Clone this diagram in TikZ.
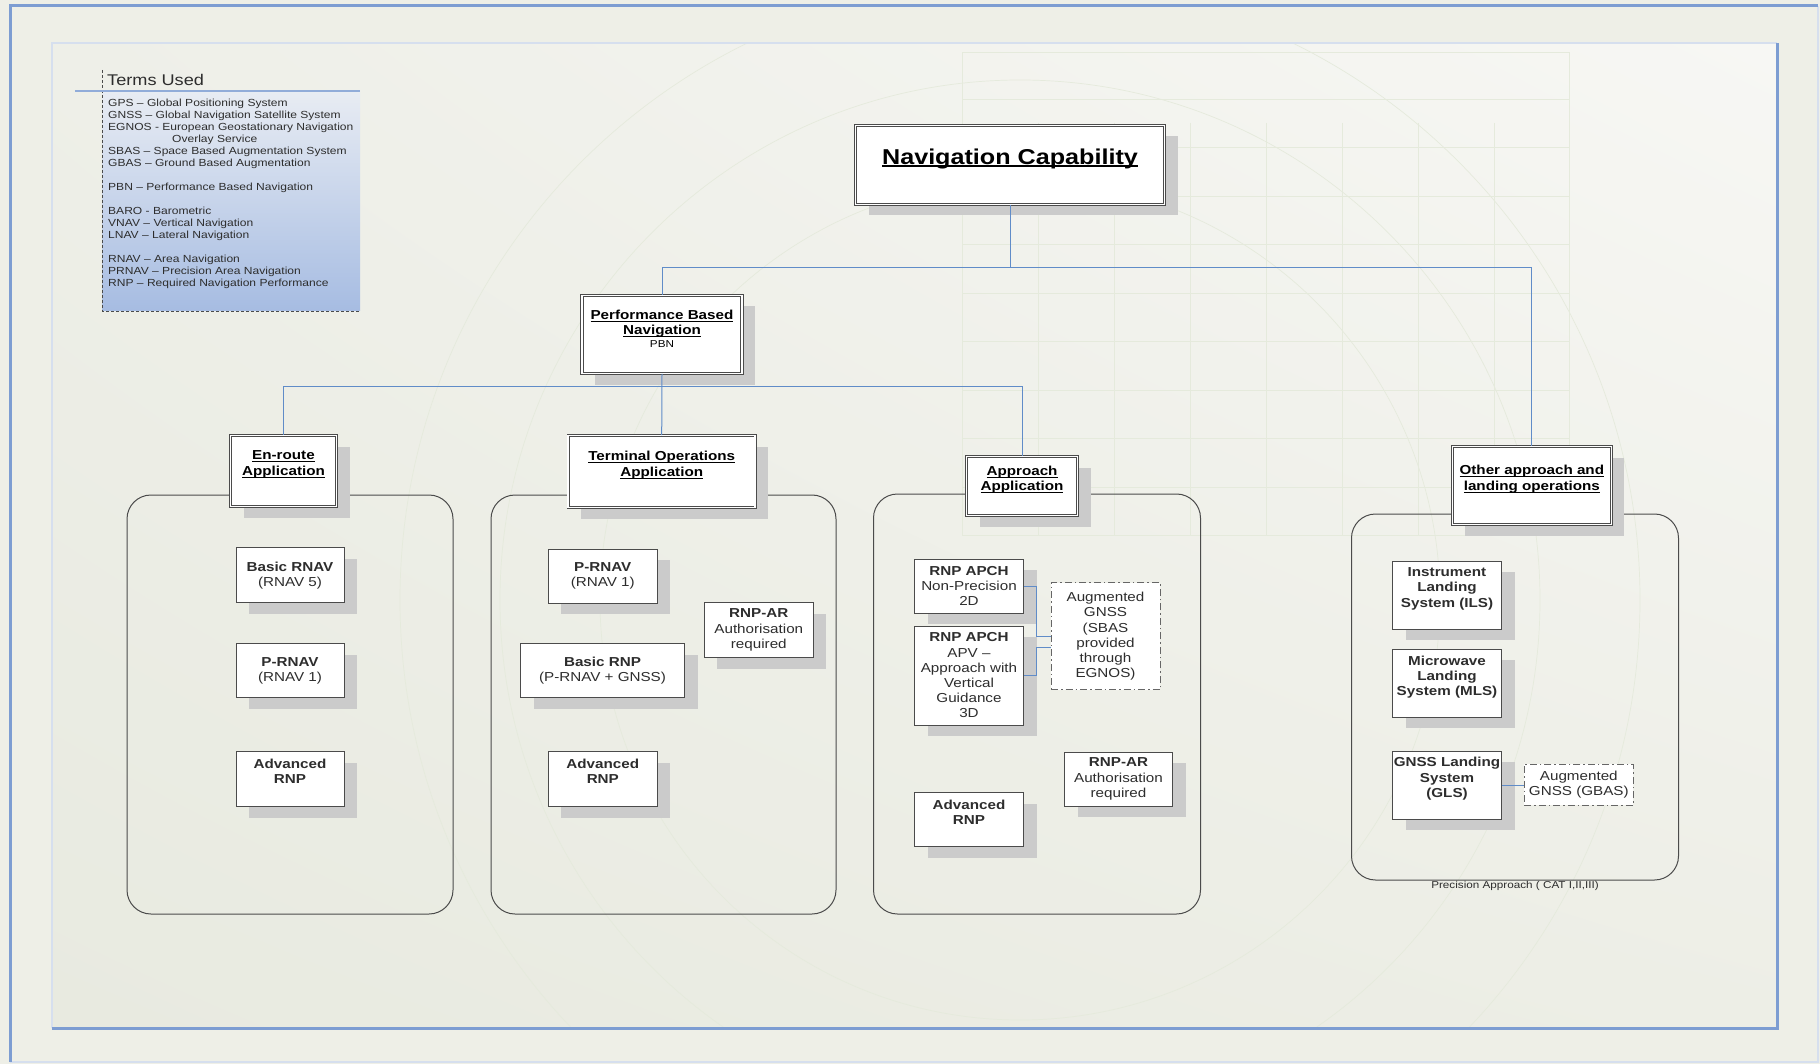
\documentclass[tikz,border=0pt]{standalone}
\usepackage{fontspec}
\setmainfont{Liberation Sans}[FakeStretch=1.17]
\usetikzlibrary{positioning,shadows,shadings}
\definecolor{linkblue}{RGB}{96,140,200}
\definecolor{framebl}{RGB}{125,157,210}
\definecolor{framelt}{RGB}{214,223,238}
\definecolor{paper}{RGB}{238,239,231}
\definecolor{sheetul}{RGB}{238,239,232}
\definecolor{sheetur}{RGB}{247,247,244}
\definecolor{sheetll}{RGB}{232,234,224}
\definecolor{sheetlr}{RGB}{237,238,230}
\definecolor{faint}{RGB}{229,234,220}
\definecolor{boxline}{RGB}{75,75,75}
\definecolor{shade}{RGB}{203,203,203}
\definecolor{legtop}{RGB}{232,236,243}
\definecolor{legbot}{RGB}{166,188,226}
\definecolor{txt}{RGB}{45,45,45}
\newcommand\uln[2][0.9]{\leavevmode\setbox0\hbox{#2}\rlap{\rule[-2.4pt]{\wd0}{#1pt}}\box0}
\tikzset{
  sz/.style 2 args={minimum width=#1pt,minimum height=#2pt},
  shad/.style={drop shadow={shadow xshift=13pt,shadow yshift=-11pt,fill=shade,opacity=1}},
  head/.style={draw=boxline,line width=0.8pt,double=white,double distance=1.6pt,fill=white,shad,
    inner sep=0pt,align=center,font=\bfseries\fontsize{13}{15.5}\selectfont},
  item/.style={draw=boxline,line width=1pt,fill=white,shad,inner sep=0pt,align=center,
    text=txt,font=\fontsize{13}{15.2}\selectfont},
  aug/.style={draw=boxline!85,line width=1pt,dash pattern=on 7pt off 3pt on 1.5pt off 3pt,
    fill=white,inner sep=0pt,align=center,text=txt,font=\fontsize{13}{15.2}\selectfont},
  group/.style={draw=boxline,line width=1pt,rounded corners=24pt,inner sep=0pt},
  link/.style={draw=linkblue,line width=1pt}
}
\begin{document}
\begin{tikzpicture}[x=1pt,y=-1pt]
\useasboundingbox (0,0) rectangle (1820,1064);
\fill[paper] (0,0) rectangle (1820,1064);
\draw[framelt,line width=2pt] (10,1062) -- (1818,1062) -- (1818,6);
\draw[framebl,line width=3pt] (10,1062) -- (10,6) -- (1818,6);
\shade[upper left=sheetul,upper right=sheetur,lower left=sheetll,lower right=sheetlr]
  (52,43) rectangle (1777,1028);
\begin{scope}
\clip (52,43) rectangle (1777,1028);
\foreach \gx in {962,1038,...,1500} \draw[faint,line width=0.7pt] (\gx,123) -- (\gx,535);
\foreach \gy in {99,147.5,...,536} \draw[faint,line width=0.7pt] (962,\gy) -- (1569,\gy);
\draw[faint,line width=0.7pt] (962,52) rectangle (1569,535);
\foreach \r in {420,520,620} \draw[faint,line width=0.7pt] (1020,600) circle[radius=\r pt];
\end{scope}
\draw[framelt,line width=2.5pt] (52,1028) -- (52,43) -- (1777,43);
\draw[framebl,line width=3pt] (52,1028) -- (1777,1028) -- (1777,43);

\shade[top color=legtop,bottom color=legbot] (102,91) rectangle (360,311);
\draw[boxline,densely dashed,line width=0.8pt] (102,70) -- (102,311) -- (360,311);
\draw[framebl!85,line width=2pt] (75,91) -- (360,91);
\node[anchor=west,inner sep=0pt,text=txt,font=\fontsize{15.5}{17}\selectfont] (legtitle) at (107,79.5) {Terms Used};
\node[anchor=north west,inner sep=0pt,align=left,text=txt,font=\fontsize{10.3}{12}\selectfont] (legtext) at (108,98.5)
  {GPS -- Global Positioning System\\
   GNSS -- Global Navigation Satellite System\\
   EGNOS - European Geostationary Navigation\\
   \hspace*{64pt}Overlay Service\\
   SBAS -- Space Based Augmentation System\\
   GBAS -- Ground Based Augmentation\\[12pt]
   PBN -- Performance Based Navigation\\[12pt]
   BARO - Barometric\\
   VNAV -- Vertical Navigation\\
   LNAV -- Lateral Navigation\\[12pt]
   RNAV -- Area Navigation\\
   PRNAV -- Precision Area Navigation\\
   RNP -- Required Navigation Performance};

\node[group,sz={326}{419}] (grpenr) at (290,704.5) {};
\node[group,sz={345}{419}] (grpterm) at (663.5,704.5) {};
\node[group,sz={327}{420}] (grpappr) at (1037,704) {};
\node[group,sz={327}{366}] (grpoth) at (1515,697) {};
\node[below=1pt of grpoth,inner sep=0pt,text=txt,font=\fontsize{10}{12}\selectfont] (precnote) {Precision Approach ( CAT I,II,III)};

\node[head,sz={309}{79},font=\bfseries\fontsize{21.5}{25}\selectfont] (nav) at (1010,165) {\uln[1.8]{Navigation Capability}\\[-9pt]~};
\node[head,sz={160}{78}] (pbn) at (662,334.5) {\uln{Performance Based}\\\uln{Navigation}\\[-3pt]{\mdseries\fontsize{10}{11}\selectfont PBN}\\[-4pt]~};
\node[head,sz={106}{71}] (enr) at (283.5,471) {\uln{En-route}\\\uln{Application}\\~};
\node[head,sz={187}{72}] (term) at (661.7,471.5) {\uln{Terminal Operations}\\\uln{Application}\\~};
\node[head,sz={111}{59}] (appr) at (1022,486) {\uln{Approach}\\\uln{Application}\\~};
\node[head,sz={159}{78}] (oth) at (1531.8,485.5) {\uln{Other approach and}\\\uln{landing operations}\\~};

\node[item,sz={108}{55}] (enr1) at (290,575.3) {\textbf{Basic RNAV}\\(RNAV 5)};
\node[item,sz={108}{54}] (enr2) at (290,670.5) {\textbf{P-RNAV}\\(RNAV 1)};
\node[item,sz={108}{55}] (enr3) at (290,779.2) {\textbf{Advanced}\\\textbf{RNP}\\~};
\node[item,sz={109}{54}] (term1) at (602.8,576) {\textbf{P-RNAV}\\(RNAV 1)};
\node[item,sz={164}{54}] (term2) at (602.5,670.5) {\textbf{Basic RNP}\\(P-RNAV + GNSS)};
\node[item,sz={109}{55}] (term3) at (758.8,630) {\textbf{RNP-AR}\\Authorisation\\required};
\node[item,sz={109}{55}] (term4) at (602.8,779.2) {\textbf{Advanced}\\\textbf{RNP}\\~};
\node[item,sz={109}{54}] (appr1) at (969,586) {\textbf{RNP APCH}\\Non-Precision\\2D};
\node[item,sz={109}{99}] (appr2) at (969,675.5) {\textbf{RNP APCH}\\APV --\\Approach with\\Vertical\\Guidance\\3D};
\node[aug,sz={109}{107}] (sbas) at (1105.5,636.3) {Augmented\\GNSS\\(SBAS\\provided\\through\\EGNOS)};
\node[item,sz={108}{54}] (appr3) at (1118.5,779) {\textbf{RNP-AR}\\Authorisation\\required};
\node[item,sz={109}{54}] (appr4) at (969,819.7) {\textbf{Advanced}\\\textbf{RNP}\\~};
\node[item,sz={109}{68}] (oth1) at (1447,595) {\textbf{Instrument}\\\textbf{Landing}\\\textbf{System (ILS)}\\~};
\node[item,sz={109}{68}] (oth2) at (1447,683.3) {\textbf{Microwave}\\\textbf{Landing}\\\textbf{System (MLS)}\\~};
\node[item,sz={109}{68}] (oth3) at (1447,785) {\textbf{GNSS Landing}\\\textbf{System}\\\textbf{(GLS)}\\~};
\node[aug,sz={109}{41}] (gbas) at (1578.8,784.7) {Augmented\\GNSS (GBAS)};

\coordinate (bus1) at (1010,268);
\coordinate (bus2) at (662,386);
\draw[link] (nav.south) -- (bus1) -| (pbn.north);
\draw[link] (bus1) -| (oth.north);
\draw[link] (pbn.south) -- (term.north);
\draw[link] (bus2) -| (enr.north);
\draw[link] (bus2) -| (appr.north);
\draw[link] (appr1.east) -- ++(12.3,0) |- (sbas.west);
\draw[link] (appr2.east) -- ++(12.3,0) |- ([yshift=-11pt]sbas.west);
\draw[link] (oth3.east) -- (oth3.east -| gbas.west);
\end{tikzpicture}
\end{document}
